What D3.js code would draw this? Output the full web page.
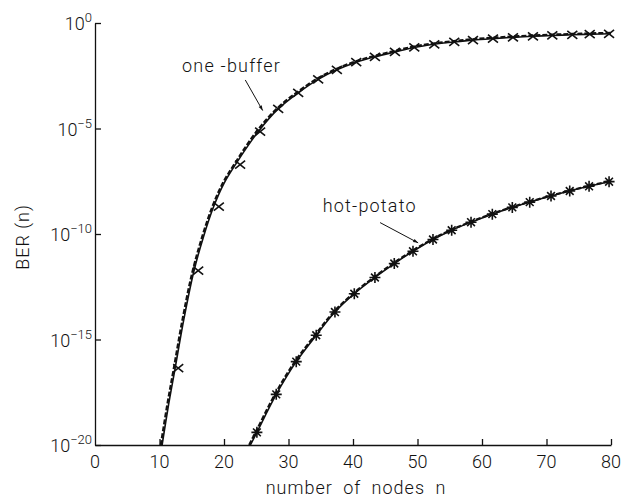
<!DOCTYPE html>
<html><head><meta charset="utf-8">
<script src="https://cdn.jsdelivr.net/npm/d3@7"></script>
<style>
html,body{margin:0;padding:0;background:#fff;}
svg text{font-family:Roboto,"Liberation Sans",sans-serif;font-weight:300;fill:#111;}
</style></head>
<body><svg id="c" width="636" height="501"></svg>
<script>
// ---- data (exponents are log10 of BER) ----
const xTicks = [0,10,20,30,40,50,60,70,80];
const yTickExp = [0,-5,-10,-15,-20];

// one-buffer: analysis (solid) and approximation (dashed) curves
const obCurveN   = [10.4,11.4,12.4,13.8,15.3,16.8,18.4,20.0,21.9,25.3,28.4,31.5,34.6,37.5,40.5,43.4,46.5,49.5,52.6,55.7,58.6,61.7,64.8,67.9,70.9,74,77,80];
const obCurveLog = [-20,-18.1,-16.4,-14.0,-11.8,-10.15,-8.7,-7.6,-6.65,-5.15,-4.07,-3.31,-2.67,-2.22,-1.86,-1.6,-1.37,-1.16,-1.01,-0.9,-0.81,-0.74,-0.68,-0.63,-0.59,-0.56,-0.53,-0.51];
const obDashN    = [10.2,11.2,12.2,13.6,15.1,16.6,18.2,19.8,21.7,25.1,28.3,31.4,34.5,37.4,40.4,43.3,46.4,49.4,52.5,55.6,58.5,61.6,64.7,67.8,70.8,73.9,76.9,80];
const obDashLog  = [-20,-18.1,-16.4,-14.0,-11.8,-10.15,-8.7,-7.6,-6.65,-5.12,-4.03,-3.27,-2.63,-2.18,-1.82,-1.56,-1.33,-1.12,-0.97,-0.86,-0.77,-0.70,-0.64,-0.59,-0.55,-0.52,-0.49,-0.47];
// one-buffer: simulation points
const obSimN   = [12.9,16.0,19.2,22.5,25.6,28.4,31.5,34.6,37.5,40.5,43.4,46.5,49.5,52.6,55.7,58.6,61.7,64.8,67.9,70.9,74.0,76.7,79.7];
const obSimLog = [-16.36,-11.73,-8.70,-6.71,-5.15,-4.07,-3.31,-2.67,-2.22,-1.86,-1.6,-1.37,-1.16,-1.01,-0.9,-0.81,-0.74,-0.68,-0.63,-0.59,-0.56,-0.53,-0.51];

// hot-potato
const hpCurveN   = [24.1,25.1,28.1,31.2,34.3,37.2,40.2,43.4,46.4,49.3,52.4,55.3,58.3,61.6,64.7,67.4,70.7,73.6,76.6,79.7,80];
const hpCurveLog = [-20,-19.4,-17.6,-16.05,-14.8,-13.7,-12.83,-12.06,-11.4,-10.82,-10.26,-9.82,-9.44,-9.06,-8.74,-8.49,-8.2,-7.96,-7.74,-7.52,-7.5];
const hpDashN    = [23.9,24.9,27.9,31.0,34.1,37.0,40.0,43.2,46.2,49.1,52.2,55.1,58.1,61.4,64.5,67.2,70.5,73.4,76.4,79.5,80];
const hpDashLog  = hpCurveLog;
const hpSimN   = [25.1,28.1,31.2,34.3,37.2,40.2,43.4,46.4,49.3,52.4,55.3,58.3,61.6,64.7,67.4,70.7,73.6,76.6,79.7];
const hpSimLog = [-19.4,-17.6,-16.05,-14.8,-13.7,-12.83,-12.06,-11.4,-10.82,-10.26,-9.82,-9.44,-9.06,-8.74,-8.49,-8.2,-7.96,-7.74,-7.52];

// annotations (data coordinates)
const labelOB = {text:"one -buffer", n:13.5, e:-2.3, arrow:[[23.3,-2.7],[26.0,-4.15]]};
const labelHP = {text:"hot-potato",  n:35.3, e:-8.94, arrow:[[44.2,-9.46],[50.1,-10.42]]};

// ---- drawing ----
const svg = d3.select("#c");
const x = d3.scaleLinear().domain([0,80]).range([95,611]);
const y = d3.scaleLog().domain([1e-20,1]).range([445,23]);
const ink = "#111";

const zip = (a,b)=>a.map((v,i)=>[v,b[i]]);
const line = d3.line().x(d=>x(d[0])).y(d=>y(Math.pow(10,d[1]))).curve(d3.curveCatmullRom.alpha(0.5));

// axes
const xAxis = d3.axisBottom(x).tickValues(xTicks.slice(1)).tickSizeInner(-6).tickSizeOuter(0).tickFormat("");
const gx = svg.append("g").attr("transform",`translate(0,${y(1e-20)})`).call(xAxis);
const yAxis = d3.axisLeft(y).tickValues(yTickExp.map(e=>Math.pow(10,e))).tickSizeInner(-6).tickSizeOuter(0).tickFormat("");
const gy = svg.append("g").attr("transform",`translate(${x(0)},0)`).call(yAxis);
[gx,gy].forEach(g=>{g.selectAll("path,line").attr("stroke",ink).attr("stroke-width",1.3);});

// x tick labels
svg.append("g").selectAll("text").data(xTicks).join("text")
  .attr("x",d=>x(d)).attr("y",y(1e-20)+23).attr("text-anchor","middle")
  .attr("font-size",18).text(d=>d);

// y tick labels with superscripts
const yl = svg.append("g").selectAll("text").data(yTickExp).join("text")
  .attr("x",x(0)-3).attr("y",d=>y(Math.pow(10,d))+7).attr("text-anchor","end").attr("font-size",18);
yl.append("tspan").text("10");
yl.append("tspan").attr("dy",-8).attr("font-size",13).text(d=>d===0?"0":"\u2212"+(-d));

// axis titles
svg.append("text").attr("x",(x(0)+x(80))/2+3).attr("y",494).attr("text-anchor","middle")
  .attr("font-size",18).attr("letter-spacing",1).attr("word-spacing",5).text("number of nodes n");
svg.append("text").attr("transform",`translate(29,${237}) rotate(-90)`).attr("text-anchor","middle")
  .attr("font-size",18).attr("letter-spacing",1).text("BER (n)");

// curves
function drawCurve(N,L,dash){
  svg.append("path").datum(zip(N,L)).attr("d",line).attr("fill","none")
    .attr("stroke",ink).attr("stroke-width",dash?2.2:1.6)
    .attr("stroke-dasharray",dash?"5,2":null);
}
drawCurve(obCurveN,obCurveLog,false);
drawCurve(obDashN,obDashLog,true);
drawCurve(hpCurveN,hpCurveLog,false);
drawCurve(hpDashN,hpDashLog,true);

// markers
const r = 5;
svg.append("g").selectAll("path").data(zip(obSimN,obSimLog)).join("path")
  .attr("transform",d=>`translate(${x(d[0])},${y(Math.pow(10,d[1]))})`)
  .attr("d",`M${-r},${-r*0.8}L${r},${r*0.8}M${-r},${r*0.8}L${r},${-r*0.8}`)
  .attr("stroke",ink).attr("stroke-width",1.6).attr("fill","none");
const rs = 5.5, rd = rs*0.7071;
svg.append("g").selectAll("path").data(zip(hpSimN,hpSimLog)).join("path")
  .attr("transform",d=>`translate(${x(d[0])},${y(Math.pow(10,d[1]))})`)
  .attr("d",`M${-rs},0L${rs},0M0,${-rs}L0,${rs}M${-rd},${-rd}L${rd},${rd}M${-rd},${rd}L${rd},${-rd}`)
  .attr("stroke",ink).attr("stroke-width",1.6).attr("fill","none");

// annotations
const defs = svg.append("defs");
defs.append("marker").attr("id","ah").attr("viewBox","0 0 10 10").attr("refX",10).attr("refY",5)
  .attr("markerWidth",11).attr("markerHeight",5).attr("markerUnits","userSpaceOnUse").attr("orient","auto")
  .append("path").attr("d","M0,1.5L10,5L0,8.5Z").attr("fill",ink);
[labelOB,labelHP].forEach(l=>{
  svg.append("text").attr("x",x(l.n)).attr("y",y(Math.pow(10,l.e))).attr("font-size",18)
    .attr("letter-spacing",1.2).text(l.text);
  const [a,b] = l.arrow;
  svg.append("line").attr("x1",x(a[0])).attr("y1",y(Math.pow(10,a[1])))
    .attr("x2",x(b[0])).attr("y2",y(Math.pow(10,b[1])))
    .attr("stroke",ink).attr("stroke-width",1).attr("marker-end","url(#ah)");
});
</script></body></html>
